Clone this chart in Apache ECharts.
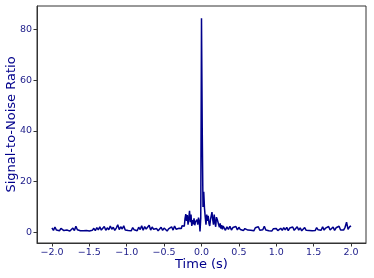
<!DOCTYPE html>
<html>
<head>
<meta charset="utf-8">
<script src="https://cdn.jsdelivr.net/npm/echarts@6/dist/echarts.min.js"></script>
<style>
html,body{margin:0;padding:0;background:#fff;}
#chart{width:374px;height:278px;}
</style>
</head>
<body>
<div id="chart"></div>
<script>
// Sampling grid: outer segments every 0.02 s, central segment every 0.01 s
const leftStart = -2.00, leftStep = 0.02;
const centerStart = -0.29, centerStep = 0.01;
const rightStart = 0.30, rightStep = 0.02;

// SNR values
const leftSNR = [
  1.8,0.8,2.1,0.9,1.5,0.6,1.6,1.2,0.7,1.4,
  0.9,1.3,0.5,1.1,1.7,0.7,2.4,1.0,1.3,0.6,
  1.2,0.6,1.0,0.7,1.4,0.5,1.1,0.8,1.6,0.7,
  1.9,1.0,2.2,0.9,1.6,2.3,0.8,1.8,1.0,2.5,
  1.2,2.0,0.8,1.7,3.0,1.1,2.2,1.3,2.6,0.9,
  1.6,0.7,1.3,0.6,1.9,1.0,1.5,0.6,2.0,1.1,
  2.6,0.8,2.3,1.3,1.8,2.8,0.9,2.1,1.2,0.7,
  1.5,0.6,1.2,2.0,0.8,1.7,1.0,0.5,1.4,0.8,
  2.2,0.9,2.5,1.2,0.7,1.6
];
const centerSNR = [
  1.2,2.0,1.5,2.6,2.0,3.2,2.4,5.5,7.2,4.5,
  6.8,3.0,5.5,8.5,4.0,7.0,2.5,4.8,3.2,5.5,
  2.8,4.2,3.5,5.0,3.0,5.8,4.5,0.4,5.5,84.5,
  40.0,10.0,16.0,9.5,6.0,3.0,7.0,4.5,6.5,3.5,
  2.5,5.0,6.5,8.0,5.0,3.0,7.0,4.0,2.2,6.0,
  5.2,5.8,3.0,2.0,3.5,1.5,2.8,1.2,2.5
];
const rightSNR = [
  1.8,0.8,2.2,1.2,2.4,0.9,1.9,1.4,2.3,1.0,
  2.0,1.1,1.7,0.7,1.5,2.1,0.9,1.6,0.8,1.4,
  0.6,1.8,1.1,2.2,0.8,1.5,1.0,2.4,0.9,1.6,
  0.6,1.2,0.5,1.4,0.8,1.5,0.7,1.3,1.6,0.8,
  1.9,1.0,2.0,0.7,1.7,1.1,2.1,0.8,1.4,2.2,
  0.9,1.8,0.6,1.3,1.9,0.8,1.5,0.7,1.2,0.6,
  1.3,0.7,1.9,1.0,1.6,0.8,2.2,0.9,1.7,1.1,
  2.3,0.9,1.5,2.1,0.8,1.8,1.1,2.4,0.9,1.6,
  0.9,2.0,4.0,1.2,2.2,2.5
];

const xTicks = [-2.0,-1.5,-1.0,-0.5,0.0,0.5,1.0,1.5,2.0];
const yTicks = [0,20,40,60,80];

function seg(start, step, vals){
  return vals.map((v,i)=>[+(start + i*step).toFixed(3), v]);
}
const data = [].concat(
  seg(leftStart, leftStep, leftSNR),
  seg(centerStart, centerStep, centerSNR),
  seg(rightStart, rightStep, rightSNR)
);

function fmt(v, dec){
  const s = Math.abs(v).toFixed(dec);
  return (v < 0 ? '\u2212' : '') + s;
}

const font = 'DejaVu Sans';
const tickColor = '#22228c';
const titleColor = '#00008b';
const frame = '#333333';

const chart = echarts.init(document.getElementById('chart'), null, {renderer:'canvas'});
chart.setOption({
  animation: false,
  backgroundColor: '#ffffff',
  grid: {left:37, right:8, top:6, bottom:35, show:true, borderColor:frame, borderWidth:1,
         containLabel:false, outerBoundsMode:'none'},
  xAxis: {
    type:'value', min:-2.2, max:2.2,
    name:'Time (s)', nameLocation:'middle', nameGap:15, nameMoveOverlap:false,
    nameTextStyle:{fontFamily:font, fontSize:13, color:titleColor},
    axisLine:{show:true, onZero:false, lineStyle:{color:frame, width:1}},
    axisTick:{show:true, length:3.5, inside:false, customValues:xTicks, lineStyle:{color:frame}},
    axisLabel:{customValues:xTicks, fontFamily:font, fontSize:9.5, color:tickColor, margin:5,
      formatter:(v)=>fmt(v,1)},
    splitLine:{show:false}
  },
  yAxis: {
    type:'value', min:-4.2, max:89.3,
    name:'Signal-to-Noise Ratio', nameLocation:'middle', nameGap:19, nameRotate:90, nameMoveOverlap:false,
    nameTextStyle:{fontFamily:font, fontSize:13, color:titleColor},
    axisLine:{show:true, onZero:false, lineStyle:{color:frame, width:1}},
    axisTick:{show:true, length:3.5, inside:false, customValues:yTicks, lineStyle:{color:frame}},
    axisLabel:{customValues:yTicks, fontFamily:font, fontSize:9.5, color:tickColor, margin:5,
      formatter:(v)=>fmt(v,0)},
    splitLine:{show:false}
  },
  series: [{
    type:'line', data:data, showSymbol:false, symbol:'none',
    lineStyle:{color:'#00008b', width:1.5}, clip:true
  }]
});
</script>
</body>
</html>
